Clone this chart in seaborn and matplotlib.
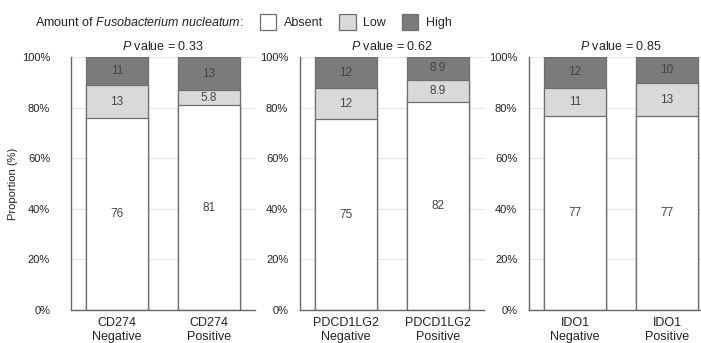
"""
Stacked proportion bars: F. nucleatum amount by CD274 / PDCD1LG2 / IDO1 status.
"""

import matplotlib
matplotlib.use("Agg")
import matplotlib.pyplot as plt
import numpy as np
import pandas as pd
import seaborn as sns
from matplotlib.patches import Patch

# data (percent of cases)
genes = ["CD274", "PDCD1LG2", "IDO1"]
status = ["Negative", "Positive"]
p_values = ["0.33", "0.62", "0.85"]
absent = [75.7, 81.0, 75.4, 82.2, 76.8, 76.8]
low = [13.1, 5.8, 12.2, 8.9, 11.0, 12.8]
high = [11.2, 13.2, 12.4, 8.9, 12.2, 10.4]
levels = ["Absent", "Low", "High"]
yticks = [0, 20, 40, 60, 80, 100]

colors = {"Absent": "#ffffff", "Low": "#d9d9d9", "High": "#7b7b7b"}
edge = "#6e6e6e"

sns.set_style("white")
plt.rcParams['font.family'] = ['Liberation Sans', 'DejaVu Sans']
plt.rcParams['mathtext.fontset'] = 'custom'
plt.rcParams['mathtext.rm'] = 'Liberation Sans'
plt.rcParams['mathtext.it'] = 'Liberation Sans:italic'

fig = plt.figure(figsize=(7.01, 3.43), dpi=100)

W, H = 701, 343
lefts = [71, 300, 529]
ax_w = 184
top, bottom = 57, 310

for i, gene in enumerate(genes):
    ax = fig.add_axes([lefts[i] / W, 1 - bottom / H, ax_w / W, (bottom - top) / H])
    sl = slice(2 * i, 2 * i + 2)
    df = pd.DataFrame({
        "group": [f"{gene}\n{s}" for s in status],
        "Absent": absent[sl],
        "Low": low[sl],
        "High": high[sl],
    })
    df["cum_low"] = df["Absent"] + df["Low"]
    df["cum_high"] = df["cum_low"] + df["High"]

    # overlay cumulative bars, tallest first
    for col, lvl in [("cum_high", "High"), ("cum_low", "Low"), ("Absent", "Absent")]:
        sns.barplot(data=df, x="group", y=col, color=colors[lvl], saturation=1,
                    width=0.67, edgecolor=edge, linewidth=0.9, errorbar=None, ax=ax)

    # segment labels
    for j, row in df.iterrows():
        base = 0
        for lvl in levels:
            v = row[lvl]
            ax.text(j, base + v / 2, f"{v:.2g}", ha="center", va="center",
                    fontsize=8.5, color="#444444")
            base += v

    ax.set_xlim(-0.5, 1.5)
    ax.set_ylim(0, 100)
    ax.set_yticks(yticks)
    ax.set_yticklabels([f"{t}%" for t in yticks])
    ax.set_xlabel("")
    ax.set_ylabel("")
    ax.set_axisbelow(True)
    ax.yaxis.grid(True, color="#e6e6e6", linewidth=0.8)
    ax.tick_params(axis="y", length=0, pad=15 if i == 0 else 8.5, labelsize=8,
                   labelcolor="#222222")
    ax.tick_params(axis="x", length=0, pad=5, labelsize=9, labelcolor="#222222")
    for s in ["top", "right"]:
        ax.spines[s].set_visible(False)
    for s in ["left", "bottom"]:
        ax.spines[s].set_color("#666666")
        ax.spines[s].set_linewidth(1.0)
    ax.set_title(f"$\\it{{P}}$ value = {p_values[i]}", fontsize=9, pad=5,
                 color="#222222")
    if i == 0:
        ax.set_ylabel("Proportion (%)", fontsize=8, color="#222222")
        ax.yaxis.set_label_coords(-0.29, 0.5)

# legend row on top
fig.text(35 / W, 1 - 22 / H, "Amount of $\\it{Fusobacterium\\ nucleatum}$:",
         fontsize=9, ha="left", va="center", color="#222222")
handles = [Patch(facecolor=colors[l], edgecolor=edge, linewidth=0.9) for l in levels]
fig.legend(handles, levels, loc="center left", bbox_to_anchor=(260 / W, 1 - 22 / H),
           ncol=3, frameon=False, fontsize=9, handlelength=1.3, handleheight=1.6,
           handletextpad=0.6, columnspacing=1.3, borderpad=0, borderaxespad=0)

fig.savefig("out.png", dpi=100)
